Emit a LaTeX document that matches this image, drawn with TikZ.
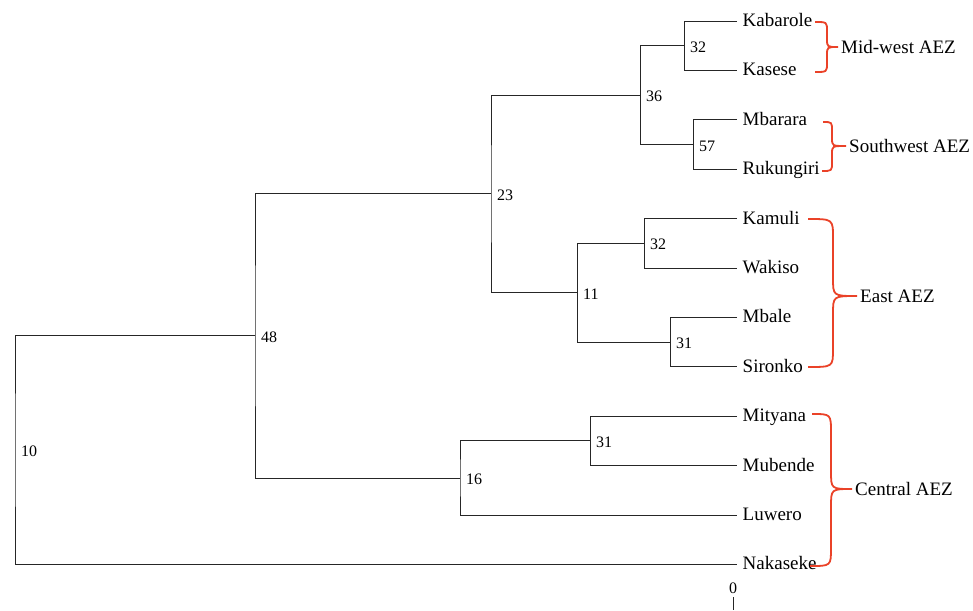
\documentclass[tikz,border=0pt]{standalone}
\usepackage{fontspec}
\setmainfont{Liberation Serif}
\definecolor{bracered}{RGB}{234,66,40}
\begin{document}
\begin{tikzpicture}[x=1pt,y=-1pt,
  leaf/.style={anchor=west,inner xsep=5.5pt,inner ysep=0pt,text height=14pt,text depth=3pt,font=\fontsize{19}{20}\selectfont},
  num/.style={anchor=west,inner xsep=6pt,inner ysep=0pt,text height=13pt,text depth=0pt,font=\fontsize{16}{17}\selectfont},
  grp/.style={anchor=west,inner xsep=3pt,inner ysep=0pt,text height=13pt,text depth=0pt,font=\fontsize{19}{20}\selectfont},
  branch/.style={draw=black!85,line width=0.9pt},
  brace/.style={draw=bracered,line width=1.8pt}]
\useasboundingbox (0,0) rectangle (973,610);
% leaves
\node[leaf] (Ka) at (737,21)  {Kabarole};
\node[leaf] (Ks) at (737,70.4)  {Kasese};
\node[leaf] (Mb) at (737,119.8) {Mbarara};
\node[leaf] (Ru) at (737,169.2) {Rukungiri};
\node[leaf] (Km) at (737,218.6) {Kamuli};
\node[leaf] (Wa) at (737,268) {Wakiso};
\node[leaf] (Ml) at (737,317.4) {Mbale};
\node[leaf] (Si) at (737,366.8) {Sironko};
\node[leaf] (My) at (737,416.2) {Mityana};
\node[leaf] (Mu) at (737,465.6) {Mubende};
\node[leaf] (Lu) at (737,515) {Luwero};
\node[leaf] (Na) at (737,564.4) {Nakaseke};
% internal nodes
\node[num] (n32a) at (684,45.7) {32};
\node[num] (n57)  at (693,144.5) {57};
\node[num] (n36)  at (640,95.1) {36};
\node[num] (n32b) at (644,243.3) {32};
\node[num] (n31a) at (670,342.1) {31};
\node[num] (n11)  at (577,292.7) {11};
\node[num] (n23)  at (491,193.9) {23};
\node[num] (n31b) at (590,440.9) {31};
\node[num] (n16)  at (460,478) {16};
\node[num] (n48)  at (255,335.9) {48};
\node[num] (n10)  at (15,450.2) {10};
% branches
\draw[branch] (Ka.west) -| (n32a.west) |- (Ks.west);
\draw[branch] (Mb.west) -| (n57.west) |- (Ru.west);
\draw[branch] (n32a.west) -| (n36.west) |- (n57.west);
\draw[branch] (Km.west) -| (n32b.west) |- (Wa.west);
\draw[branch] (Ml.west) -| (n31a.west) |- (Si.west);
\draw[branch] (n32b.west) -| (n11.west) |- (n31a.west);
\draw[branch] (n36.west) -| (n23.west) |- (n11.west);
\draw[branch] (My.west) -| (n31b.west) |- (Mu.west);
\draw[branch] (n31b.west) -| (n16.west) |- (Lu.west);
\draw[branch] (n23.west) -| (n48.west) |- (n16.west);
\draw[branch] (n48.west) -| (n10.west) |- (Na.west);
% group labels
\node[grp] (gMW) at (838,47) {Mid-west AEZ};
\node[grp] (gSW) at (846,146) {Southwest AEZ};
\node[grp] (gE)  at (857,296) {East AEZ};
\node[grp] (gC)  at (852,489) {Central AEZ};
% braces
\draw[brace] (815,22) .. controls (827,22) .. (827,31) -- (827,39) .. controls (827,47) .. (gMW.west)
  .. controls (827,47) .. (827,55) -- (827,63) .. controls (827,72) .. (815,72);
\draw[brace] (823,122) .. controls (832,122) .. (832,131) -- (832,138) .. controls (832,146) .. (gSW.west)
  .. controls (832,146) .. (832,154) -- (832,162) .. controls (832,171) .. (822,171);
\draw[brace] (808,219) .. controls (833,219) .. (833,238) -- (833,278) .. controls (833,296) .. (gE.west)
  .. controls (833,296) .. (833,314) -- (833,349) .. controls (833,367) .. (808,367);
\draw[brace] (812,414) .. controls (831,414) .. (831,433) -- (831,471) .. controls (831,489) .. (gC.west)
  .. controls (831,489) .. (831,507) -- (831,548) .. controls (831,566) .. (810,566);
% scale
\node[font=\fontsize{16}{17}\selectfont,anchor=base,inner sep=0pt] (zero) at (733,593) {0};
\coordinate (tickend) at (733,610);
\draw[draw=black!85,line width=0.8pt] ([yshift=-4pt]zero.south) -- (tickend);
\end{tikzpicture}
\end{document}
